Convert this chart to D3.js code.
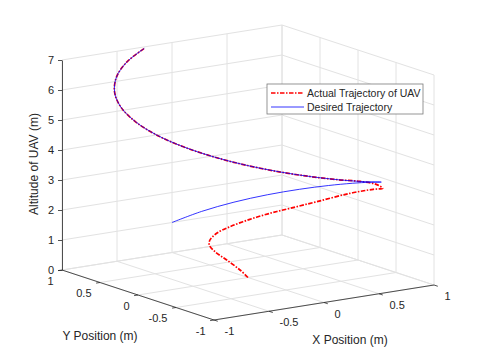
<!DOCTYPE html>
<html>
<head>
<meta charset="utf-8">
<script src="https://cdn.jsdelivr.net/npm/d3@7"></script>
<style>
body { margin: 0; background: #fff; }
text { font-family: "Liberation Sans", Arial, Helvetica, sans-serif; fill: #262626; }
</style>
</head>
<body>
<svg width="480" height="360"></svg>
<script>
var xTicks = [-1, -0.5, 0, 0.5, 1]
var yTicks = [-1, -0.5, 0, 0.5, 1]
var zTicks = [0, 1, 2, 3, 4, 5, 6, 7]

// desired helix
var desiredX = [0, 0.247, 0.479, 0.682, 0.841, 0.949, 0.997, 0.984, 0.909, 0.778, 0.598, 0.382, 0.141, -0.108, -0.351, -0.572, -0.757, -0.895, -0.978, -0.999, -0.959, -0.859, -0.706, -0.510, -0.279]
var desiredY = [1, 0.969, 0.878, 0.732, 0.540, 0.315, 0.071, -0.178, -0.416, -0.628, -0.801, -0.924, -0.990, -0.994, -0.936, -0.821, -0.654, -0.446, -0.211, 0.037, 0.284, 0.512, 0.709, 0.861, 0.960]
var desiredZ = [1, 1.25, 1.5, 1.75, 2, 2.25, 2.5, 2.75, 3, 3.25, 3.5, 3.75, 4, 4.25, 4.5, 4.75, 5, 5.25, 5.5, 5.75, 6, 6.25, 6.5, 6.75, 7]

// actual UAV path: take off from the origin, then joins the helix
var actualX = [0, 0.046, 0.084, 0.100, 0.117, 0.130, 0.212, 0.322, 0.480, 0.604, 0.708, 0.827, 0.964, 0.958, 0.838, 0.620, 0.382, 0.141, -0.108, -0.351, -0.572, -0.757, -0.895, -0.978, -0.999, -0.959, -0.859, -0.706, -0.510, -0.279]
var actualY = [0, 0.172, 0.401, 0.578, 0.678, 0.689, 0.719, 0.703, 0.671, 0.585, 0.472, 0.293, 0.053, -0.262, -0.559, -0.790, -0.924, -0.990, -0.994, -0.936, -0.821, -0.654, -0.446, -0.211, 0.037, 0.284, 0.512, 0.709, 0.861, 0.960]
var actualZ = [0, 0.08, 0.2, 0.32, 0.45, 0.6, 0.75, 0.92, 1.1, 1.3, 1.5, 1.8, 2.2, 2.6, 2.95, 3.4, 3.75, 4, 4.25, 4.5, 4.75, 5, 5.25, 5.5, 5.75, 6, 6.25, 6.5, 6.75, 7]

var svg = d3.select('svg')
svg.append('rect').attr('width', 480).attr('height', 360).attr('fill', '#fff')

// oblique projection of the plot box (view az -37.5, el 30)
var origin = [214, 320]            // corner x=-1, y=-1, z=0
var xVec = [220, -35]              // x from -1 to 1
var yVec = [-152, -50]             // y from -1 to 1
var xScale = d3.scaleLinear().domain([-1, 1]).range([0, 1])
var yScale = d3.scaleLinear().domain([-1, 1]).range([0, 1])
var zScale = d3.scaleLinear().domain([0, 7]).range([0, 210])

function project(x, y, z) {
	var fx = xScale(x), fy = yScale(y)
	return [origin[0] + fx * xVec[0] + fy * yVec[0],
		origin[1] + fx * xVec[1] + fy * yVec[1] - zScale(z)]
}

var grid = svg.append('g').attr('stroke', '#e2e2e2').attr('stroke-width', 1).attr('fill', 'none')
function seg(g, a, b) {
	g.append('line').attr('x1', a[0]).attr('y1', a[1]).attr('x2', b[0]).attr('y2', b[1])
}
xTicks.forEach(function(v) {
	seg(grid, project(v, -1, 0), project(v, 1, 0))
	seg(grid, project(v, 1, 0), project(v, 1, 7))
})
yTicks.forEach(function(v) {
	seg(grid, project(-1, v, 0), project(1, v, 0))
	seg(grid, project(1, v, 0), project(1, v, 7))
})
zTicks.forEach(function(v) {
	seg(grid, project(-1, 1, v), project(1, 1, v))
	seg(grid, project(1, 1, v), project(1, -1, v))
})

// axes
var axes = svg.append('g').attr('stroke', '#262626').attr('stroke-width', 0.8)
seg(axes, project(-1, -1, 0), project(1, -1, 0))
seg(axes, project(-1, -1, 0), project(-1, 1, 0))

xTicks.forEach(function(v) {
	var p = project(v, -1, 0)
	seg(axes, p, [p[0] + 3.8, p[1] + 1.25])
	svg.append('text').attr('x', p[0] + 10.5).attr('y', p[1] + 15)
		.attr('font-size', 11).text(String(v))
})
yTicks.forEach(function(v) {
	var p = project(-1, v, 0)
	seg(axes, p, [p[0] - 3.9, p[1] + 0.6])
	svg.append('text').attr('x', p[0] - 8.5).attr('y', p[1] + 14.5)
		.attr('text-anchor', 'end').attr('font-size', 11).text(String(v))
})

var zBase = project(-1, 1, 0)
var zAxisScale = d3.scaleLinear().domain([0, 7]).range([zBase[1], zBase[1] - 210])
var zAxis = svg.append('g')
	.attr('transform', 'translate(' + zBase[0] + ',0)')
	.call(d3.axisLeft(zAxisScale).tickValues(zTicks).tickFormat(d3.format('d')).tickSize(4).tickSizeOuter(0).tickPadding(4))
zAxis.select('.domain').attr('stroke', '#262626').attr('stroke-width', 0.8)
zAxis.selectAll('.tick line').attr('stroke', '#262626').attr('stroke-width', 0.8)
zAxis.selectAll('.tick text').attr('font-size', 11).attr('fill', '#262626').attr('dy', '0.3em')
	.style('font-family', '"Liberation Sans", Arial, Helvetica, sans-serif')

// axis labels
svg.append('text').attr('x', 350).attr('y', 344).attr('text-anchor', 'middle')
	.attr('font-size', 12).text('X Position (m)')
svg.append('text').attr('x', 100).attr('y', 340).attr('text-anchor', 'middle')
	.attr('font-size', 12).text('Y Position (m)')
svg.append('text').attr('transform', 'translate(38,164) rotate(-90)').attr('text-anchor', 'middle')
	.attr('font-size', 12).text('Altitude of UAV (m)')

// trajectories
var line = d3.line().curve(d3.curveCatmullRom.alpha(0.5))
var actualPts = actualX.map(function(d, i) {return project(d, actualY[i], actualZ[i])})
var desiredPts = desiredX.map(function(d, i) {return project(d, desiredY[i], desiredZ[i])})

svg.append('path').attr('d', line(actualPts)).attr('fill', 'none')
	.attr('stroke', '#ff0000').attr('stroke-width', 1.7).attr('stroke-dasharray', '4.5,1.5,1.5,1.5')
svg.append('path').attr('d', line(desiredPts)).attr('fill', 'none')
	.attr('stroke', '#0000ff').attr('stroke-width', 0.8)

// legend
var legend = svg.append('g')
legend.append('rect').attr('x', 267).attr('y', 84).attr('width', 156).attr('height', 30)
	.attr('fill', '#fff').attr('stroke', '#7a7a7a').attr('stroke-width', 0.8)
legend.append('line').attr('x1', 271).attr('x2', 304).attr('y1', 93).attr('y2', 93)
	.attr('stroke', '#ff0000').attr('stroke-width', 1.7).attr('stroke-dasharray', '4.5,1.5,1.5,1.5')
legend.append('line').attr('x1', 271).attr('x2', 304).attr('y1', 107).attr('y2', 107)
	.attr('stroke', '#0000ff').attr('stroke-width', 0.8)
legend.append('text').attr('x', 307).attr('y', 96.5).attr('font-size', 10.5).text('Actual Trajectory of UAV')
legend.append('text').attr('x', 307).attr('y', 110.5).attr('font-size', 10.5).text('Desired Trajectory')
</script>
</body>
</html>
